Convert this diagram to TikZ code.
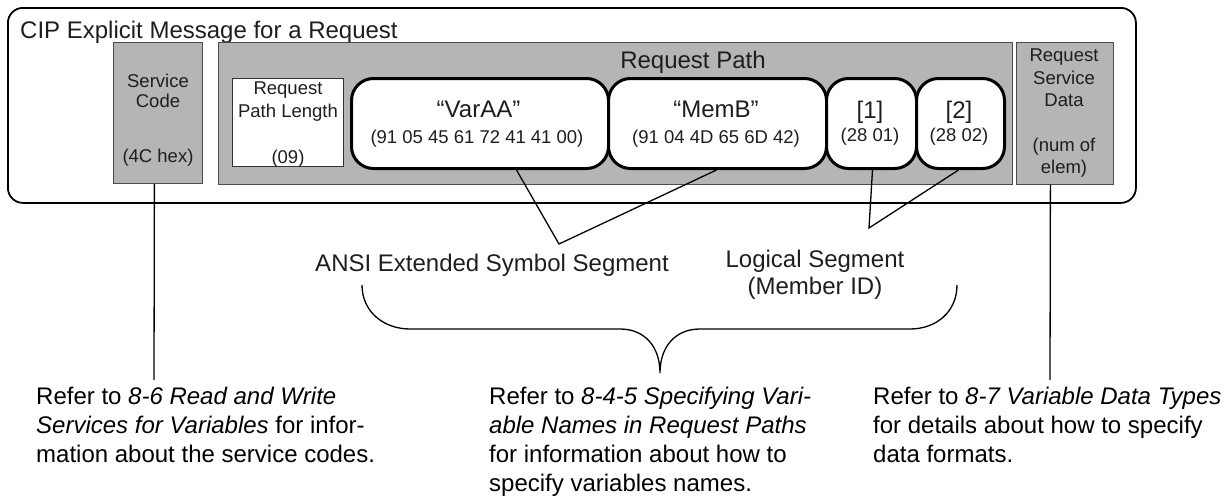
\documentclass[tikz,border=0pt]{standalone}
\usepackage{fontspec}
\setmainfont{Liberation Sans}
\usetikzlibrary{calc}
\definecolor{boxgray}{RGB}{181,181,181}
\definecolor{txt}{RGB}{30,30,30}
\begin{document}
\begin{tikzpicture}[x=1pt,y=-1pt,
  big/.style={font=\fontsize{24}{28}\selectfont, text=txt, inner sep=0, text height=17.5pt, text depth=5pt},
  small/.style={font=\fontsize{18.5}{21}\selectfont, text=txt, inner sep=0, text height=13.5pt, text depth=3.9pt},
  graybox/.style={draw=black!70, line width=0.8pt, fill=boxgray, inner sep=0, anchor=north west},
  whitebox/.style={draw=black!80, line width=0.8pt, fill=white, inner sep=0, anchor=north west},
  segbox/.style={draw=black, line width=3pt, fill=white, rounded corners=22pt, inner sep=0, anchor=north west, minimum height=90},
  conn/.style={draw=black, line width=1.3pt},
  note/.style={font=\fontsize{24}{29}\selectfont, align=left, anchor=north west, inner sep=0, text=black}]
\useasboundingbox (0,0) rectangle (1232,498);

% outer message frame
\node[draw, line width=1.8pt, rounded corners=15pt, minimum width=1128, minimum height=195, inner sep=0, anchor=north west] (outer) at (7,7) {};
\node[big, anchor=west] (title) at (20,32) {CIP Explicit Message for a Request};

% gray fields
\node[graybox, minimum width=89, minimum height=141] (sc) at (113,42) {};
\node[graybox, minimum width=794, minimum height=142] (rp) at (218,42) {};
\node[graybox, minimum width=97, minimum height=142] (rsd) at (1016,42) {};

\node[small] (scA) at (158,83) {Service};
\node[small] (scB) at (158,103) {Code};
\node[small] (scC) at (158,158) {(4C hex)};

\node[big] (rpT) at (693,62) {Request Path};

\node[small] (rsdA) at (1064,57) {Request};
\node[small] (rsdB) at (1064,80) {Service};
\node[small] (rsdC) at (1064,102) {Data};
\node[small] (rsdD) at (1064,147) {(num of};
\node[small] (rsdE) at (1064,169) {elem)};

% request path length
\node[whitebox, minimum width=111, minimum height=88] (pl) at (232,78) {};
\node[small] (plA) at (288,90) {Request};
\node[small] (plB) at (288,113) {Path Length};
\node[small] (plC) at (288,159) {(09)};

% segments
\node[segbox, minimum width=257] (varaa) at (350,77) {};
\node[segbox, minimum width=218] (memb) at (607,77) {};
\node[segbox, minimum width=90] (one) at (825,77) {};
\node[segbox, minimum width=88] (two) at (915,77) {};

\node[big] (varaaT) at (478.5,111) {“VarAA”};
\node[small] (varaaH) at (477,139) {(91 05 45 61 72 41 41 00)};
\node[big] (membT) at (716,111) {“MemB”};
\node[small] (membH) at (716,139) {(91 04 4D 65 6D 42)};
\node[big] (oneT) at (870,112) {[1]};
\node[small] (oneH) at (870,137) {(28 01)};
\node[big] (twoT) at (959,112) {[2]};
\node[small] (twoH) at (959,137) {(28 02)};

% segment labels
\coordinate (ansiApex) at (559,244);
\coordinate (logApex) at (869,228);
\node[big] (ansi) at (492,265) {ANSI Extended Symbol Segment};
\node[big] (logA) at (815,261) {Logical Segment};
\node[big] (logB) at (815,288) {(Member ID)};

\draw[conn] ([xshift=36.5pt]varaa.south) -- (ansiApex) -- ([xshift=-1pt]memb.south);
\draw[conn] ([xshift=1pt]one.south) -- (logApex) -- ([xshift=-2pt]two.south);

% brace
\draw[line width=1.3pt] (362,285) .. controls (362,312) and (384,329) .. (410,329)
  -- (620,329) .. controls (645,329) and (660,347) .. (660,373)
  .. controls (660,347) and (675,329) .. (700,329)
  -- (910,329) .. controls (936,329) and (957,312) .. (957,285);

% leader lines to notes
\coordinate (scEnd) at (154,380);
\coordinate (rsdEnd) at (1050,380);
\draw[conn] ([xshift=-3.5pt]sc.south) -- (scEnd);
\draw[conn] ([xshift=-14.5pt]rsd.south) -- (rsdEnd);

% notes
\node[note] (noteL) at (36,387) {Refer to \textit{8-6 Read and Write}\\\textit{Services for Variables} for infor-\\mation about the service codes.};
\node[note] (noteM) at (489,387) {Refer to \textit{8-4-5 Specifying Vari-}\\\textit{able Names in Request Paths}\\for information about how to\\specify variables names.};
\node[note] (noteR) at (873,387) {Refer to \textit{8-7 Variable Data Types}\\for details about how to specify\\data formats.};
\end{tikzpicture}
\end{document}
